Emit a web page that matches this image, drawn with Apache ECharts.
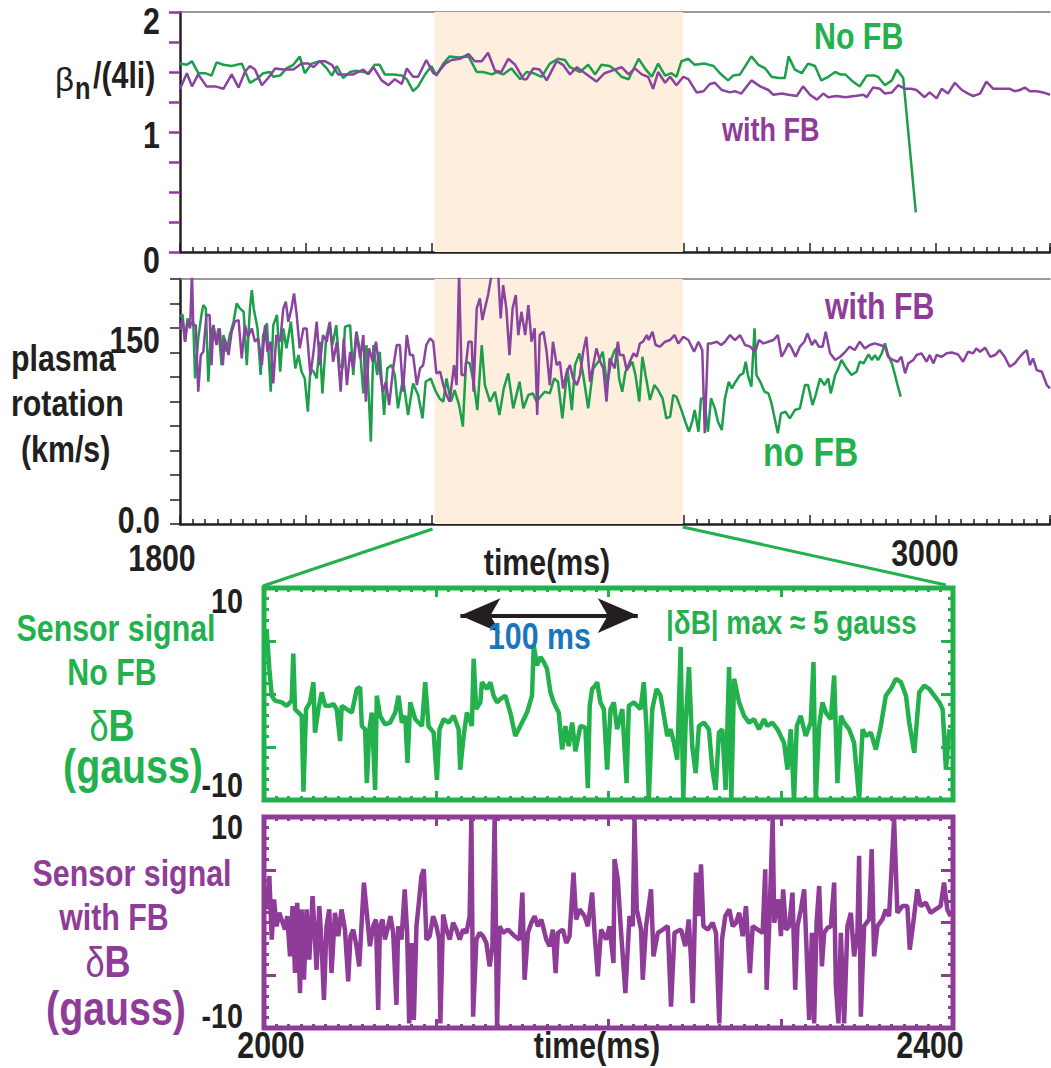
<!DOCTYPE html>
<html>
<head>
<meta charset="utf-8">
<script src="https://cdn.jsdelivr.net/npm/echarts@6/dist/echarts.min.js"></script>
<style>
html,body{margin:0;padding:0;background:#fff;}
#c{width:1051px;height:1068px;}
</style>
</head>
<body>
<div id="c"></div>
<script>
// ---------------- DATA ----------------
// Panel 1: beta_n/(4li) vs time (ms)
const betaNoFB = [[1800,1.57],[1811,1.56],[1819,1.59],[1829,1.49],[1840,1.49],[1850,1.47],[1858,1.58],[1869,1.56],[1882,1.55],[1898,1.57],[1911,1.41],[1924,1.45],[1932,1.49],[1943,1.50],[1948,1.46],[1959,1.47],[1969,1.53],[1980,1.56],[1990,1.63],[1998,1.49],[2009,1.57],[2022,1.59],[2033,1.53],[2041,1.47],[2049,1.55],[2059,1.45],[2070,1.50],[2080,1.51],[2091,1.50],[2099,1.49],[2109,1.56],[2117,1.56],[2125,1.48],[2139,1.48],[2152,1.47],[2160,1.44],[2170,1.34],[2178,1.38],[2189,1.48],[2199,1.55],[2207,1.47],[2218,1.57],[2228,1.63],[2242,1.62],[2258,1.63],[2271,1.50],[2281,1.50],[2295,1.48],[2303,1.50],[2313,1.48],[2326,1.53],[2340,1.44],[2350,1.50],[2361,1.49],[2374,1.46],[2387,1.57],[2400,1.61],[2411,1.60],[2419,1.54],[2435,1.50],[2448,1.56],[2459,1.48],[2469,1.56],[2482,1.55],[2490,1.52],[2501,1.46],[2512,1.44],[2528,1.61],[2538,1.53],[2549,1.46],[2559,1.57],[2570,1.47],[2580,1.49],[2588,1.46],[2596,1.59],[2607,1.61],[2617,1.56],[2633,1.57],[2647,1.55],[2657,1.49],[2670,1.43],[2678,1.47],[2689,1.48],[2707,1.63],[2718,1.56],[2729,1.53],[2739,1.46],[2750,1.45],[2760,1.45],[2766,1.63],[2776,1.52],[2787,1.49],[2797,1.57],[2808,1.55],[2818,1.43],[2829,1.46],[2840,1.50],[2848,1.48],[2856,1.48],[2866,1.43],[2879,1.38],[2890,1.47],[2903,1.47],[2908,1.46],[2919,1.39],[2930,1.43],[2938,1.52],[2948,1.45],[2968,0.33]];
const betaWithFB = [[1800,1.36],[1811,1.49],[1819,1.38],[1829,1.48],[1842,1.38],[1856,1.38],[1869,1.36],[1882,1.48],[1893,1.37],[1903,1.50],[1911,1.55],[1919,1.52],[1930,1.39],[1940,1.45],[1951,1.53],[1964,1.52],[1980,1.52],[1993,1.57],[2004,1.57],[2012,1.54],[2022,1.59],[2030,1.59],[2041,1.56],[2051,1.48],[2065,1.48],[2075,1.48],[2091,1.52],[2099,1.48],[2107,1.54],[2120,1.43],[2131,1.39],[2141,1.44],[2152,1.40],[2160,1.53],[2170,1.46],[2178,1.46],[2191,1.60],[2202,1.49],[2207,1.48],[2221,1.57],[2231,1.60],[2244,1.61],[2258,1.65],[2268,1.59],[2279,1.59],[2289,1.66],[2300,1.51],[2310,1.50],[2321,1.61],[2332,1.56],[2345,1.44],[2350,1.44],[2361,1.53],[2371,1.52],[2382,1.43],[2398,1.59],[2408,1.56],[2419,1.48],[2430,1.54],[2443,1.49],[2461,1.42],[2474,1.49],[2490,1.52],[2501,1.54],[2512,1.48],[2522,1.53],[2533,1.48],[2543,1.46],[2551,1.36],[2559,1.50],[2570,1.41],[2578,1.46],[2588,1.39],[2599,1.46],[2607,1.44],[2620,1.33],[2631,1.34],[2641,1.40],[2649,1.41],[2660,1.35],[2673,1.33],[2681,1.34],[2691,1.32],[2707,1.43],[2721,1.38],[2734,1.35],[2742,1.31],[2755,1.32],[2766,1.31],[2779,1.30],[2789,1.38],[2800,1.31],[2811,1.27],[2821,1.32],[2829,1.29],[2842,1.30],[2856,1.29],[2871,1.30],[2885,1.31],[2890,1.29],[2900,1.37],[2911,1.36],[2919,1.32],[2930,1.33],[2940,1.39],[2951,1.36],[2961,1.36],[2969,1.35],[2982,1.29],[2990,1.33],[3001,1.28],[3009,1.36],[3019,1.32],[3030,1.41],[3041,1.35],[3051,1.32],[3059,1.30],[3070,1.32],[3080,1.42],[3091,1.36],[3107,1.36],[3117,1.36],[3125,1.34],[3133,1.35],[3141,1.37],[3149,1.34],[3160,1.34],[3170,1.33],[3181,1.31]];

// Panel 2: plasma rotation (km/s) vs time (ms)
const rotNoFB = [[1800,158.6],[1804,160.4],[1808,139.5],[1812,157.3],[1816,152.2],[1821,154.8],[1824,111.4],[1829,142.0],[1834,159.9],[1837,167.5],[1841,165.0],[1845,108.9],[1849,144.6],[1853,152.2],[1857,139.5],[1861,149.7],[1866,121.6],[1869,144.6],[1874,131.8],[1879,144.6],[1885,154.8],[1890,168.8],[1895,165.0],[1901,162.4],[1906,121.6],[1911,165.0],[1914,179.0],[1917,165.0],[1923,149.7],[1928,114.0],[1932,144.6],[1938,153.5],[1944,101.2],[1948,152.2],[1954,159.9],[1959,116.5],[1964,149.7],[1969,134.4],[1976,154.8],[1983,119.1],[1988,129.3],[1993,116.5],[1998,111.4],[2003,85.9],[2007,119.1],[2012,116.5],[2017,111.4],[2022,139.5],[2026,100.0],[2032,142.0],[2037,153.5],[2042,137.0],[2048,152.2],[2053,121.6],[2058,119.1],[2062,151.0],[2070,152.2],[2075,114.0],[2080,147.1],[2086,131.8],[2091,100.0],[2096,137.0],[2103,63.0],[2107,137.0],[2113,114.0],[2117,131.8],[2124,83.4],[2129,119.1],[2136,121.6],[2141,114.0],[2146,88.5],[2154,111.4],[2162,83.4],[2170,107.6],[2178,98.7],[2185,80.8],[2190,108.9],[2198,111.4],[2205,102.5],[2212,96.1],[2218,93.6],[2223,111.4],[2230,93.6],[2236,102.5],[2243,91.0],[2249,74.5],[2254,124.2],[2260,122.9],[2266,108.9],[2272,87.2],[2279,137.0],[2284,106.3],[2292,93.6],[2300,101.2],[2307,83.4],[2314,103.8],[2321,115.3],[2329,88.5],[2339,108.9],[2345,88.5],[2353,98.7],[2360,100.0],[2366,93.6],[2372,97.4],[2379,101.2],[2387,100.0],[2394,111.4],[2400,108.9],[2407,80.8],[2415,119.1],[2422,87.2],[2427,121.6],[2434,130.6],[2440,114.0],[2448,88.5],[2456,119.1],[2464,124.2],[2471,131.8],[2478,106.3],[2485,126.7],[2490,133.1],[2493,134.4],[2497,111.4],[2502,101.2],[2507,116.5],[2513,120.4],[2518,124.2],[2523,114.0],[2529,93.6],[2534,128.0],[2539,114.0],[2546,94.9],[2553,106.3],[2559,102.5],[2566,96.1],[2572,80.8],[2578,82.1],[2583,98.7],[2588,97.4],[2595,88.5],[2602,78.3],[2608,70.6],[2613,78.3],[2617,87.2],[2623,70.6],[2627,96.1],[2632,96.1],[2638,70.6],[2643,96.1],[2649,88.5],[2654,78.3],[2660,71.9],[2665,96.1],[2671,108.9],[2676,103.8],[2682,108.9],[2689,114.0],[2694,115.3],[2698,124.2],[2702,112.7],[2707,105.1],[2712,149.7],[2715,114.0],[2721,108.9],[2728,101.2],[2734,100.0],[2739,92.3],[2744,80.8],[2749,69.4],[2754,84.7],[2761,85.9],[2768,80.8],[2776,87.2],[2784,88.5],[2792,106.3],[2797,106.3],[2804,91.0],[2809,98.7],[2816,111.4],[2823,106.3],[2829,111.4],[2833,100.0],[2840,114.0],[2845,119.1],[2850,125.5],[2858,119.1],[2866,114.0],[2874,116.5],[2879,124.2],[2885,122.9],[2893,129.8],[2898,125.5],[2903,129.3],[2908,125.5],[2914,130.6],[2919,138.2],[2924,129.3],[2930,122.9],[2935,114.0],[2939,106.3],[2944,97.4]];
const rotWithFB = [[1800,148.4],[1804,157.3],[1808,139.5],[1812,154.8],[1816,149.7],[1819,192],[1821,152.2],[1825,152.2],[1829,101.2],[1833,129.3],[1837,131.8],[1842,159.9],[1847,159.9],[1850,121.6],[1853,152.2],[1858,137.0],[1863,149.7],[1868,121.6],[1871,142.0],[1877,129.3],[1882,147.1],[1887,154.8],[1893,156.1],[1898,126.7],[1903,152.2],[1908,143.3],[1914,149.7],[1919,139.5],[1924,142.0],[1930,121.6],[1935,152.2],[1939,131.8],[1944,139.5],[1948,107.6],[1953,144.6],[1959,139.5],[1964,165.0],[1968,170.1],[1972,154.8],[1977,165.0],[1981,176.5],[1985,161.2],[1990,134.4],[1996,149.7],[2001,149.7],[2007,114.0],[2012,131.8],[2017,154.8],[2022,121.6],[2027,144.6],[2033,139.5],[2038,154.8],[2043,124.2],[2049,139.5],[2055,101.2],[2060,142.0],[2065,106.3],[2070,131.8],[2075,119.1],[2080,147.1],[2086,126.7],[2091,144.6],[2095,93.6],[2100,134.4],[2106,124.2],[2111,139.5],[2116,121.6],[2122,101.2],[2127,108.9],[2132,91.0],[2139,121.6],[2144,137.0],[2149,137.0],[2154,101.2],[2160,144.6],[2165,129.3],[2170,129.3],[2176,106.3],[2181,119.1],[2186,121.6],[2191,137.0],[2197,142.0],[2202,139.5],[2207,115.3],[2213,116.5],[2218,106.3],[2223,98.7],[2228,93.6],[2235,121.6],[2239,106.3],[2243,192],[2247,114.0],[2252,114.0],[2258,139.5],[2263,139.5],[2266,101.2],[2271,165.0],[2276,172.6],[2280,156.1],[2284,165.0],[2289,175.2],[2295,192],[2300,192],[2305,192],[2309,157.3],[2313,182.8],[2318,165.0],[2323,129.3],[2328,165.0],[2333,175.2],[2337,144.6],[2342,162.4],[2348,144.6],[2353,167.5],[2358,139.5],[2363,149.7],[2367,83.4],[2371,144.6],[2377,147.1],[2382,131.8],[2387,106.3],[2392,139.5],[2398,121.6],[2403,124.2],[2408,103.8],[2414,116.5],[2419,121.6],[2424,111.4],[2430,106.3],[2435,114.0],[2440,131.8],[2445,143.3],[2451,108.9],[2456,121.6],[2461,134.4],[2467,124.2],[2472,119.1],[2477,93.6],[2482,126.7],[2490,119.1],[2495,139.5],[2498,129.3],[2504,129.3],[2509,117.8],[2514,124.2],[2520,130.6],[2525,128.0],[2530,138.2],[2535,139.5],[2541,144.6],[2544,140.8],[2550,147.1],[2555,137.0],[2562,135.7],[2570,139.5],[2578,140.8],[2585,144.6],[2591,138.2],[2599,143.3],[2607,140.8],[2616,131.8],[2623,139.5],[2629,133.1],[2633,69.4],[2638,138.2],[2644,138.2],[2652,139.5],[2659,137.0],[2665,139.5],[2673,144.6],[2681,140.8],[2689,144.6],[2697,137.0],[2705,135.7],[2713,131.8],[2719,140.8],[2726,138.2],[2734,139.5],[2742,140.8],[2749,144.6],[2755,128.0],[2761,133.1],[2766,138.2],[2771,134.4],[2777,128.0],[2784,135.7],[2791,139.5],[2796,145.9],[2803,137.0],[2808,140.8],[2814,135.7],[2820,135.7],[2825,147.1],[2832,130.6],[2840,125.5],[2848,128.0],[2856,131.8],[2863,135.7],[2871,133.1],[2879,139.5],[2887,134.4],[2895,137.0],[2903,138.2],[2911,137.0],[2919,135.7],[2924,128.0],[2932,125.5],[2939,124.2],[2945,128.0],[2951,115.3],[2956,122.9],[2964,125.5],[2969,129.3],[2977,130.6],[2985,124.2],[2990,129.3],[2996,122.9],[3001,129.3],[3009,128.0],[3017,130.6],[3025,131.3],[3035,129.8],[3043,124.2],[3051,131.8],[3059,130.6],[3064,134.4],[3070,131.8],[3078,134.9],[3086,128.0],[3094,129.3],[3101,133.1],[3109,128.0],[3117,120.4],[3125,122.9],[3131,126.7],[3138,130.6],[3144,133.1],[3149,121.6],[3154,126.7],[3160,117.8],[3168,116.5],[3176,106.3],[3181,103.8]];

// Panel 3: sensor signal dB (gauss), no feedback, 2000-2400 ms
const sigNoFB = [[2001.6,5.87],[2003.1,2.38],[2004.5,-0.16],[2006.4,-0.63],[2010.3,-0.79],[2013.2,-1.11],[2016.1,-0.63],[2017.0,3.81],[2018.0,-1.43],[2020.0,-1.75],[2021.9,-2.06],[2022.9,-9.21],[2024.4,-1.43],[2026.7,-0.79],[2028.7,1.11],[2029.6,-3.65],[2031.6,-1.43],[2033.5,0.16],[2035.5,-1.11],[2038.4,-1.11],[2040.3,-0.95],[2042.2,-1.43],[2044.2,-4.44],[2045.1,-1.11],[2048.0,-1.43],[2051.0,-1.75],[2053.9,0.48],[2055.8,0.63],[2056.8,-3.02],[2058.7,-3.33],[2059.7,-8.41],[2061.2,-3.33],[2062.6,-1.75],[2064.5,-9.05],[2065.5,-0.16],[2067.4,-2.06],[2070.3,-2.86],[2073.2,-2.70],[2076.2,-1.75],[2078.1,-0.16],[2080.0,-2.70],[2082.0,-2.06],[2083.3,-6.51],[2084.9,-0.79],[2087.8,-2.38],[2091.7,-3.02],[2093.6,1.11],[2095.5,-3.02],[2098.5,-3.65],[2100.4,-8.10],[2101.9,-3.33],[2104.3,-2.38],[2107.2,-2.70],[2110.1,-2.06],[2113.0,-3.33],[2113.9,-7.14],[2115.9,-3.97],[2117.8,-1.75],[2120.7,-3.02],[2121.7,3.33],[2123.2,-1.43],[2125.6,-0.79],[2126.5,1.11],[2129.5,0.48],[2131.4,1.11],[2133.3,-0.16],[2135.3,-0.79],[2137.2,-0.48],[2140.1,-0.16],[2143.0,-1.75],[2145.9,-3.97],[2148.8,-3.02],[2152.7,-1.75],[2155.6,-0.16],[2156.6,4.60],[2158.5,2.70],[2160.5,3.49],[2162.4,3.02],[2164.3,2.38],[2166.3,0.16],[2168.2,-0.79],[2171.1,-1.75],[2173.1,-5.24],[2175.0,-3.02],[2176.9,-4.92],[2178.9,-2.70],[2180.8,-5.40],[2183.7,-3.02],[2186.6,-3.17],[2188.0,-8.89],[2189.1,-1.11],[2190.5,0.48],[2192.4,0.79],[2193.4,1.11],[2195.3,-0.79],[2197.3,-1.43],[2199.2,-7.14],[2201.2,-1.43],[2203.1,-0.79],[2205.0,-3.33],[2208.0,-1.43],[2210.5,-8.41],[2211.8,-1.11],[2214.7,-0.79],[2218.6,-1.43],[2220.5,1.11],[2222.1,-3.33],[2223.4,-10.0],[2225.4,-1.43],[2227.9,0.48],[2230.2,-0.16],[2232.2,-2.06],[2234.1,-3.97],[2236.0,-3.33],[2238.0,-4.60],[2239.9,-6.19],[2241.9,4.44],[2243.4,-10.0],[2244.8,-2.70],[2246.7,2.54],[2248.6,-4.92],[2250.6,-7.46],[2252.5,-3.02],[2255.4,-2.70],[2258.3,-3.33],[2260.3,-7.14],[2262.2,-9.05],[2264.1,-3.65],[2266.1,-3.33],[2268.0,-9.05],[2270.0,2.54],[2271.3,-10.0],[2272.9,1.43],[2275.8,-0.79],[2278.7,-2.06],[2281.6,-2.70],[2284.5,-2.38],[2287.4,-3.33],[2290.3,-2.38],[2292.2,-3.02],[2295.1,-2.70],[2298.1,-3.33],[2301.9,-4.60],[2303.9,-7.14],[2305.8,-3.33],[2307.7,-10.0],[2309.3,-3.02],[2311.6,-2.06],[2314.5,-3.97],[2317.4,-2.70],[2319.0,3.02],[2320.3,-10.0],[2322.3,-3.02],[2324.2,-0.79],[2326.2,-1.75],[2329.1,-2.38],[2331.0,1.75],[2332.9,-8.41],[2334.9,-2.06],[2336.8,-2.70],[2339.7,-3.33],[2342.6,-4.60],[2345.5,-10.0],[2347.5,-3.33],[2349.4,-3.97],[2352.3,-3.65],[2355.2,-5.24],[2358.1,-3.02],[2361.0,-0.16],[2363.9,0.48],[2366.9,1.43],[2369.8,1.11],[2372.7,-0.16],[2374.6,-2.70],[2377.5,-5.56],[2380.4,0.16],[2383.3,0.79],[2386.2,0.48],[2389.1,-0.16],[2392.1,-0.79],[2394.0,-1.43],[2395.9,-7.14],[2397.9,-3.33]];

// Panel 4: sensor signal dB (gauss), with feedback, 2000-2400 ms
const sigWithFB = [[2001.5,1.24],[2003.1,4.41],[2004.5,-1.62],[2005.8,2.19],[2007.3,-0.35],[2008.9,0.92],[2010.2,0.29],[2012.2,-0.67],[2013.5,0.60],[2015.1,-3.21],[2016.6,1.56],[2018.0,-4.79],[2019.3,1.87],[2020.9,-6.70],[2021.8,1.24],[2023.2,-5.43],[2024.7,1.24],[2026.3,-3.52],[2028.2,2.51],[2029.6,-1.62],[2030.5,-4.48],[2032.1,1.56],[2033.4,-1.94],[2034.8,-7.33],[2036.3,-0.35],[2037.9,1.24],[2039.2,-4.79],[2041.2,0.92],[2043.1,-1.30],[2045.0,1.24],[2047.0,-0.67],[2048.9,-5.59],[2050.2,-1.30],[2051.8,-0.67],[2053.7,-2.25],[2055.3,-4.16],[2056.6,-0.35],[2058.0,3.78],[2059.5,1.24],[2061.5,-2.25],[2063.4,-0.35],[2065.0,0.29],[2066.3,-8.29],[2067.3,-0.35],[2068.8,0.29],[2070.2,-1.62],[2072.1,-0.35],[2073.4,0.60],[2075.0,-0.98],[2076.9,-7.81],[2077.9,-0.35],[2079.8,-1.62],[2081.7,3.14],[2083.1,-0.98],[2084.3,-9.56],[2085.6,-1.94],[2087.0,-9.24],[2088.5,-0.35],[2090.1,2.19],[2091.4,4.41],[2092.8,5.05],[2094.3,-1.62],[2096.2,-1.30],[2098.2,0.60],[2100.1,-0.35],[2101.7,-1.62],[2102.4,-9.56],[2104.0,0.76],[2105.9,-0.67],[2107.8,-1.62],[2109.8,-0.03],[2111.7,-0.67],[2113.6,-1.62],[2115.6,-0.67],[2117.5,-0.98],[2119.4,0.60],[2120.4,10.13],[2121.4,-8.92],[2123.3,-1.62],[2125.2,-0.98],[2127.2,-1.30],[2129.1,-1.94],[2131.0,-4.16],[2132.6,-2.25],[2133.9,10.13],[2135.3,-9.87],[2136.8,-0.35],[2138.7,-0.98],[2141.6,-0.67],[2145.5,-1.30],[2148.4,-1.62],[2150.0,2.83],[2151.3,-5.43],[2153.2,-0.98],[2155.2,-0.03],[2157.1,0.60],[2159.0,-0.35],[2161.0,0.29],[2163.9,-1.62],[2165.8,-2.25],[2167.7,-0.67],[2169.3,-4.79],[2170.6,-0.98],[2173.5,-0.67],[2175.5,-1.94],[2177.4,-1.30],[2179.7,4.73],[2181.2,0.29],[2183.2,1.24],[2186.1,0.60],[2188.0,-0.35],[2190.5,2.83],[2191.9,-0.98],[2193.8,-5.11],[2195.7,-0.67],[2198.6,-1.62],[2200.6,-0.35],[2202.9,-3.84],[2203.5,6.00],[2205.4,4.10],[2206.8,0.29],[2209.8,-6.70],[2212.2,0.60],[2214.1,-0.35],[2215.1,9.81],[2216.4,1.24],[2218.9,-0.67],[2219.9,-5.43],[2221.8,-0.35],[2224.7,3.14],[2226.1,-3.21],[2228.6,-0.98],[2231.5,-0.67],[2234.4,-0.35],[2236.3,-7.97],[2238.3,-0.98],[2242.1,-0.67],[2244.6,-2.25],[2246.6,0.29],[2247.9,-3.52],[2248.9,-7.65],[2250.8,4.73],[2252.4,0.60],[2253.7,5.52],[2255.1,-0.35],[2257.6,-0.67],[2260.5,-0.03],[2262.4,-0.98],[2264.3,-9.56],[2265.9,-1.62],[2267.8,0.60],[2270.1,1.24],[2272.1,-0.35],[2274.0,-0.03],[2275.9,0.92],[2277.9,-1.30],[2279.8,1.56],[2282.1,-4.79],[2283.7,-0.35],[2286.6,-0.67],[2289.5,-0.98],[2291.0,5.05],[2291.8,-6.38],[2293.3,-0.35],[2295.3,9.81],[2296.2,-0.03],[2298.7,2.19],[2300.1,-1.30],[2301.4,3.14],[2303.0,-0.67],[2304.9,-0.35],[2306.8,2.83],[2308.4,-6.38],[2309.7,-0.35],[2311.7,1.24],[2313.6,3.14],[2315.0,-2.57],[2316.5,-9.24],[2318.1,-0.98],[2319.4,-9.56],[2320.8,-0.03],[2322.3,3.46],[2323.9,-4.16],[2325.2,-0.98],[2327.1,-0.51],[2329.1,-0.35],[2331.0,3.78],[2332.0,-6.06],[2333.5,-9.56],[2334.9,-0.98],[2336.8,-9.56],[2338.7,-0.35],[2340.7,0.92],[2342.6,-3.21],[2344.5,-0.98],[2345.5,6.32],[2346.5,-8.92],[2348.4,-0.35],[2351.3,0.29],[2352.8,6.95],[2354.2,-3.21],[2356.1,-0.35],[2359.0,0.29],[2361.0,1.24],[2362.9,0.60],[2365.8,9.81],[2367.7,0.92],[2370.6,1.56],[2373.5,1.56],[2374.9,-2.57],[2377.4,0.60],[2379.3,3.14],[2381.2,1.56],[2384.2,1.87],[2387.0,0.92],[2389.9,1.24],[2392.8,1.56],[2394.8,3.78],[2396.7,1.24],[2398.6,0.60]];

// Shaded (zoomed) window on the long time axis, and the 100 ms scale arrow
const zoomWindow = [2204, 2598];
const scaleArrow = [[2114, 7.4], [2217, 7.4]];

// Tick labels that are printed
const betaTickLabels = ['0', '1', '2'];
const rotTickLabels = ['0.0', '150'];
const timeTickLabels = ['1800', '3000'];
const sigTickLabels = ['-10', '10'];
const zoomTimeLabels = ['2000', '2400'];

// ---------------- STYLE ----------------
const FONT = '"Liberation Sans", Arial, Helvetica, sans-serif';
const SQUEEZE = 0.82;            // condensed look of the original lettering
const INK = '#231f20';
const GREEN_LINE = '#1c9e4a';
const PURPLE_LINE = '#8a44a0';
const GREEN = '#22b14c';
const PURPLE = '#8e3c97';
const BLUE = '#1b75bc';
const SHADE = '#fdeedd';
const T_MIN = 1800, T_MAX = 3181;

const chart = echarts.init(document.getElementById('c'), null, {renderer: 'svg'});

function txt(text, x, y, size, color, align, weight, squeeze) {
  return {type: 'text', silent: true, z: 50, x: x, y: y, scaleX: squeeze || SQUEEZE,
    style: {text: text, x: 0, y: 0, align: align || 'left', verticalAlign: 'middle',
      fontFamily: FONT, fontWeight: weight || 'bold', fontSize: size, fill: color}};
}

const longTimeAxisBase = {
  type: 'value', min: T_MIN, max: T_MAX, interval: 200,
  axisLine: {show: true, onZero: false, lineStyle: {color: INK, width: 2.5}},
  axisTick: {show: true, inside: true, length: 9, lineStyle: {color: INK, width: 1.5}},
  minorTick: {show: true, splitNumber: 10, length: 5, lineStyle: {color: INK, width: 1.5}},
  splitLine: {show: false}, minorSplitLine: {show: false}, axisLabel: {show: false}
};
const topBorderAxis = (grid) => ({
  type: 'value', gridIndex: grid, position: 'top', min: T_MIN, max: T_MAX,
  axisLine: {show: true, onZero: false, lineStyle: {color: '#7a7a7a', width: 1.5}},
  axisTick: {show: false}, axisLabel: {show: false}, splitLine: {show: false}
});
const zoomAxis = (grid, pos, color) => ({
  type: 'value', gridIndex: grid, position: pos, min: 2000, max: 2400, interval: 100,
  axisLine: {show: false, onZero: false},
  axisTick: {show: true, inside: true, length: 9, lineStyle: {color: color, width: 3}},
  minorTick: {show: true, splitNumber: 14, length: 4, lineStyle: {color: color, width: 3}},
  splitLine: {show: false}, axisLabel: {show: false}
});
const sigYAxis = (grid, pos, color) => ({
  type: 'value', gridIndex: grid, position: pos, min: -10, max: 10, interval: 5,
  axisLine: {show: false, onZero: false},
  axisTick: {show: true, inside: true, length: 12, lineStyle: {color: color, width: 3}},
  minorTick: {show: true, splitNumber: 5, length: 5, lineStyle: {color: color, width: 3}},
  splitLine: {show: false}, axisLabel: {show: false}
});

const option = {
  animation: false,
  backgroundColor: '#ffffff',
  grid: [
    {left: 180, width: 870, top: 12, height: 240},
    {left: 180, width: 870, top: 279, height: 245},
    {left: 264, width: 689, top: 588, height: 212, show: true, borderColor: GREEN, borderWidth: 5, backgroundColor: 'transparent'},
    {left: 264, width: 689, top: 817, height: 211, show: true, borderColor: PURPLE, borderWidth: 5, backgroundColor: 'transparent'}
  ],
  xAxis: [
    Object.assign({}, longTimeAxisBase, {gridIndex: 0, position: 'bottom'}),
    topBorderAxis(0),
    Object.assign({}, longTimeAxisBase, {gridIndex: 1, position: 'bottom'}),
    topBorderAxis(1),
    zoomAxis(2, 'bottom', GREEN),
    zoomAxis(2, 'top', GREEN),
    zoomAxis(3, 'bottom', PURPLE),
    zoomAxis(3, 'top', PURPLE)
  ],
  yAxis: [
    {type: 'value', gridIndex: 0, min: 0, max: 2, interval: 0.25,
      axisLine: {show: true, onZero: false, lineStyle: {color: INK, width: 2.5}},
      axisTick: {show: true, length: 11, lineStyle: {color: PURPLE, width: 2.5}},
      splitLine: {show: false}, axisLabel: {show: false}},
    {type: 'value', gridIndex: 1, min: 0, max: 187.5, interval: 18.75,
      axisLine: {show: true, onZero: false, lineStyle: {color: INK, width: 2.5}},
      axisTick: {show: true, length: 10, lineStyle: {color: INK, width: 1.5}},
      splitLine: {show: false}, axisLabel: {show: false}},
    sigYAxis(2, 'left', GREEN),
    sigYAxis(2, 'right', GREEN),
    sigYAxis(3, 'left', PURPLE),
    sigYAxis(3, 'right', PURPLE)
  ],
  series: [
    {type: 'line', xAxisIndex: 0, yAxisIndex: 0, data: [], z: 0, silent: true,
      markArea: {silent: true, itemStyle: {color: SHADE}, data: [[{xAxis: zoomWindow[0]}, {xAxis: zoomWindow[1]}]]}},
    {type: 'line', xAxisIndex: 2, yAxisIndex: 1, data: [], z: 0, silent: true,
      markArea: {silent: true, itemStyle: {color: SHADE}, data: [[{xAxis: zoomWindow[0]}, {xAxis: zoomWindow[1]}]]}},
    {name: 'No FB', type: 'line', xAxisIndex: 0, yAxisIndex: 0, data: betaNoFB, showSymbol: false, symbol: 'none',
      lineStyle: {color: GREEN_LINE, width: 2.5}, z: 3},
    {name: 'with FB', type: 'line', xAxisIndex: 0, yAxisIndex: 0, data: betaWithFB, showSymbol: false, symbol: 'none',
      lineStyle: {color: PURPLE_LINE, width: 2.5}, z: 4},
    {name: 'no FB', type: 'line', xAxisIndex: 2, yAxisIndex: 1, data: rotNoFB, showSymbol: false, symbol: 'none',
      lineStyle: {color: GREEN_LINE, width: 2.5}, z: 3},
    {name: 'with FB', type: 'line', xAxisIndex: 2, yAxisIndex: 1, data: rotWithFB, showSymbol: false, symbol: 'none',
      lineStyle: {color: PURPLE_LINE, width: 2.5}, z: 4},
    {name: 'Sensor signal No FB', type: 'line', xAxisIndex: 4, yAxisIndex: 2, data: sigNoFB, showSymbol: false, symbol: 'none',
      lineStyle: {color: GREEN, width: 4.5, join: 'bevel'}, z: 3,
      markLine: {silent: true, symbol: ['arrow', 'arrow'], symbolSize: [26, 40], label: {show: false},
        lineStyle: {color: INK, width: 4, type: 'solid'},
        data: [[{coord: scaleArrow[0]}, {coord: scaleArrow[1]}]]}},
    {name: 'Sensor signal with FB', type: 'line', xAxisIndex: 6, yAxisIndex: 4, data: sigWithFB, showSymbol: false, symbol: 'none',
      lineStyle: {color: PURPLE, width: 4.5, join: 'bevel'}, z: 3}
  ]
};

chart.setOption(option);

const px = (grid, pt) => chart.convertToPixel({gridIndex: grid}, pt);

// tick labels, placed through the axes' own scales
const graphics = [];
betaTickLabels.forEach((s) => {
  const p = px(0, [T_MIN, parseFloat(s)]);
  const dy = {'0': 8, '1': 3, '2': 9}[s];
  graphics.push(txt(s, p[0] - 20, p[1] + dy, 37, INK, 'right'));
});
rotTickLabels.forEach((s) => {
  const p = px(1, [T_MIN, parseFloat(s)]);
  const dy = s === '150' ? 12 : -4;
  graphics.push(txt(s, p[0] - 20, p[1] + dy, 37, INK, 'right'));
});
timeTickLabels.forEach((s) => {
  const p = px(1, [parseFloat(s), 0]);
  const dx = s === '1800' ? -18 : -11;
  const dy = s === '1800' ? 34 : 29;
  graphics.push(txt(s, p[0] + dx, p[1] + dy, 37, INK, 'center'));
});
[[2, 13, -15], [3, 10, -12]].forEach(([g, dTop, dBot]) => {
  sigTickLabels.forEach((s) => {
    const v = parseFloat(s);
    const p = px(g, [2000, v]);
    graphics.push(txt(s, p[0] - 21, p[1] + (v > 0 ? dTop : dBot), 35, INK, 'right'));
  });
});
zoomTimeLabels.forEach((s) => {
  const p = px(3, [parseFloat(s), -10]);
  const dx = s === '2000' ? 7 : -23;
  graphics.push(txt(s, p[0] + dx, p[1] + 17, 37, INK, 'center'));
});

// zoom connector lines: from the shaded window on the long axis to the corners of the zoomed panel
const pL0 = px(1, [zoomWindow[0], 0]);
const pR0 = px(1, [zoomWindow[1], 0]);
const pL1 = px(2, [2000, 10]);
const pR1 = px(2, [2400, 10]);
graphics.push(
  {type: 'line', silent: true, z: 20, shape: {x1: pL0[0] - 2, y1: pL0[1] + 5, x2: pL1[0] - 1, y2: pL1[1] - 2}, style: {stroke: GREEN, lineWidth: 3}},
  {type: 'line', silent: true, z: 20, shape: {x1: pR0[0], y1: pR0[1] + 3, x2: pR1[0] - 7, y2: pR1[1] - 3}, style: {stroke: GREEN, lineWidth: 3}}
);

// titles and annotations
graphics.push(
  txt('β', 55, 79, 33, INK, 'left', 'normal', 1),
  txt('n', 75, 88, 31, INK),
  txt('/(4li)', 93, 75, 37, INK),
  txt('No FB', 814, 36, 37, GREEN),
  txt('with FB', 722, 130, 33, PURPLE),
  txt('plasma', 11, 358, 37, INK),
  txt('rotation', 11, 403, 37, INK),
  txt('(km/s)', 21, 449, 37, INK),
  txt('with FB', 825, 306, 37, PURPLE),
  txt('no FB', 763, 452, 41, GREEN),
  txt('time(ms)', 547, 562, 37, INK, 'center'),
  txt('Sensor signal', 116, 628, 37, GREEN, 'center'),
  txt('No FB', 112, 672, 37, GREEN, 'center'),
  {type: 'text', silent: true, z: 50, x: 112, y: 726, scaleX: SQUEEZE, style: {x: 0, y: 0, align: 'center', verticalAlign: 'middle',
    text: '{d|δ}{b|B}', rich: {d: {fontFamily: FONT, fontSize: 42, fill: GREEN},
      b: {fontFamily: FONT, fontWeight: 'bold', fontSize: 44, fill: GREEN}}}},
  txt('(gauss)', 133, 766, 48, GREEN, 'center'),
  txt('|δB| max ≈ 5 gauss', 666, 623, 34, GREEN),
  txt('100 ms', 488, 636, 37, BLUE),
  txt('Sensor signal', 132, 873, 37, PURPLE, 'center'),
  txt('with FB', 114, 917, 37, PURPLE, 'center'),
  {type: 'text', silent: true, z: 50, x: 108, y: 962, scaleX: SQUEEZE, style: {x: 0, y: 0, align: 'center', verticalAlign: 'middle',
    text: '{d|δ}{b|B}', rich: {d: {fontFamily: FONT, fontSize: 42, fill: PURPLE},
      b: {fontFamily: FONT, fontWeight: 'bold', fontSize: 44, fill: PURPLE}}}},
  txt('(gauss)', 116, 1008, 48, PURPLE, 'center'),
  txt('time(ms)', 597, 1045, 37, INK, 'center')
);
chart.setOption({graphic: graphics});
</script>
</body>
</html>
